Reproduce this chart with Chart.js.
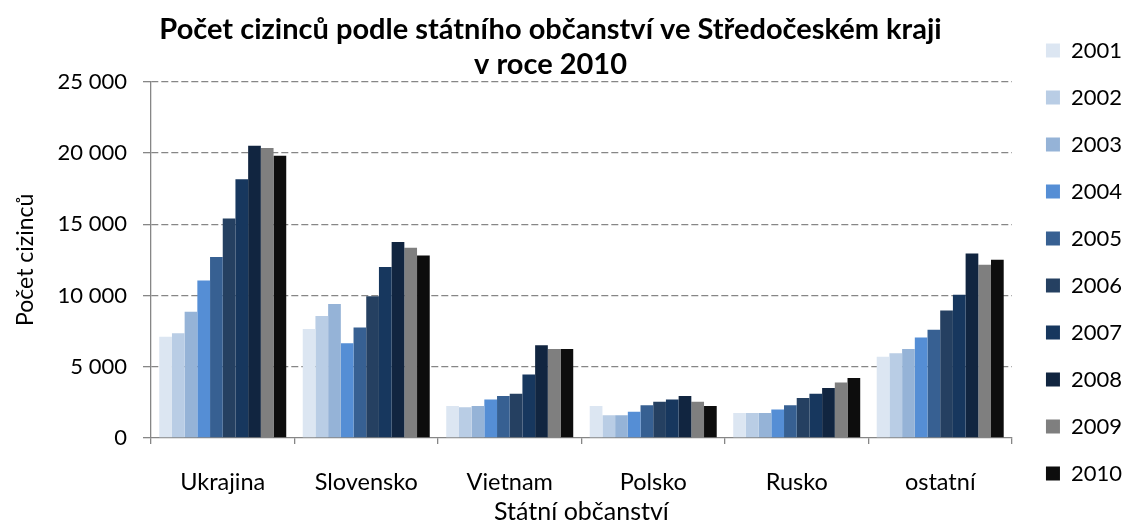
<!DOCTYPE html>
<html>
<head>
<meta charset="utf-8">
<title>Počet cizinců</title>
<script src="https://cdn.jsdelivr.net/npm/chart.js@4/dist/chart.umd.min.js"></script>
<style>
    body { margin: 0; background: #fff; }
    #wrap { width: 1128px; height: 524px; }
</style>
</head>
<body>
<div id="wrap"><canvas id="cizinciChart" width="1128" height="524"></canvas></div>
<script>
// --- Data ---
const categories = ['Ukrajina', 'Slovensko', 'Vietnam', 'Polsko', 'Rusko', 'ostatní'];
const years = ['2001', '2002', '2003', '2004', '2005', '2006', '2007', '2008', '2009', '2010'];

const y2001 = [7100, 7650, 2250, 2250, 1750, 5700];
const y2002 = [7350, 8550, 2150, 1600, 1750, 5950];
const y2003 = [8850, 9400, 2250, 1600, 1750, 6250];
const y2004 = [11050, 6650, 2700, 1850, 2000, 7050];
const y2005 = [12700, 7750, 2950, 2300, 2300, 7600];
const y2006 = [15400, 9950, 3100, 2550, 2800, 8950];
const y2007 = [18150, 12000, 4450, 2700, 3100, 10050];
const y2008 = [20500, 13750, 6500, 2950, 3500, 12950];
const y2009 = [20350, 13350, 6250, 2550, 3900, 12150];
const y2010 = [19800, 12800, 6250, 2250, 4200, 12500];

const yTicks = [0, 5000, 10000, 15000, 20000, 25000];
const titleLines = ['Počet cizinců podle státního občanství ve Středočeském kraji', 'v roce 2010'];

const seriesValues = [y2001, y2002, y2003, y2004, y2005, y2006, y2007, y2008, y2009, y2010];
const colors = ['#DCE6F2', '#B9CDE5', '#95B3D7', '#558ED5', '#376092',
                '#254061', '#17375E', '#112540', '#7F7F7F', '#0D0D0D'];

const axisGray = '#868686';

function formatThousands(v) {
    return String(v).replace(/\B(?=(\d{3})+(?!\d))/g, ' ');
}

Chart.defaults.font.family = "Lato, 'Open Sans', sans-serif";
Chart.defaults.color = '#000';

// shift title / legend a little to match the original placement
const nudgePlugin = {
    id: 'nudge',
    afterLayout(chart) {
        if (chart.titleBlock) {
            chart.titleBlock.left -= 18;
            chart.titleBlock.right -= 18;
        }
        if (chart.legend) {
            chart.legend.left += 9;
            chart.legend.right += 9;
        }
    }
};

new Chart(document.getElementById('cizinciChart').getContext('2d'), {
    type: 'bar',
    data: {
        labels: categories,
        datasets: years.map((yr, i) => ({
            label: yr,
            data: seriesValues[i],
            backgroundColor: colors[i],
            borderWidth: 0,
            barPercentage: 1.0,
            categoryPercentage: 0.885
        }))
    },
    options: {
        responsive: false,
        animation: false,
        devicePixelRatio: 1,
        layout: { padding: { left: 14, right: 5, top: 0, bottom: 0 } },
        plugins: {
            title: {
                display: true,
                text: titleLines,
                color: '#000',
                font: { size: 29, weight: 'bold', lineHeight: 1.2 },
                padding: { top: 12, bottom: 0 }
            },
            legend: {
                position: 'right',
                weight: 3000,
                labels: {
                    boxWidth: 14,
                    boxHeight: 14,
                    padding: 25,
                    color: '#000',
                    font: { size: 22 }
                }
            },
            tooltip: { enabled: false }
        },
        scales: {
            x: {
                afterFit: (scale) => {
                    scale.height = 86;
                },
                grid: {
                    display: true,
                    drawOnChartArea: false,
                    drawTicks: true,
                    tickLength: 6,
                    color: axisGray,
                    lineWidth: 1.3
                },
                border: { display: true, color: axisGray, width: 1.3 },
                ticks: { padding: 24, color: '#000', font: { size: 23.5 } },
                title: {
                    display: true,
                    text: 'Státní občanství',
                    color: '#000',
                    font: { size: 25, lineHeight: 1.0 },
                    padding: { top: 0, bottom: 0 }
                }
            },
            y: {
                min: 0,
                max: 25000,
                afterBuildTicks: (scale) => {
                    scale.ticks = yTicks.map(v => ({ value: v }));
                },
                afterFit: (scale) => {
                    scale.width = 137;
                },
                grid: {
                    color: (ctx) => (ctx.tick && ctx.tick.value === 0 ? 'rgba(0,0,0,0)' : axisGray),
                    tickColor: axisGray,
                    tickBorderDash: [],
                    lineWidth: 1.3,
                    tickLength: 8
                },
                border: { display: true, color: axisGray, width: 1.3, dash: [7, 3] },
                ticks: {
                    padding: 16,
                    color: '#000',
                    font: { size: 22 },
                    callback: (value) => formatThousands(value)
                },
                title: {
                    display: true,
                    text: 'Počet cizinců',
                    color: '#000',
                    font: { size: 23, lineHeight: 1.0 },
                    padding: { top: 0, bottom: 0 }
                }
            }
        }
    },
    plugins: [nudgePlugin]
});
</script>
</body>
</html>
